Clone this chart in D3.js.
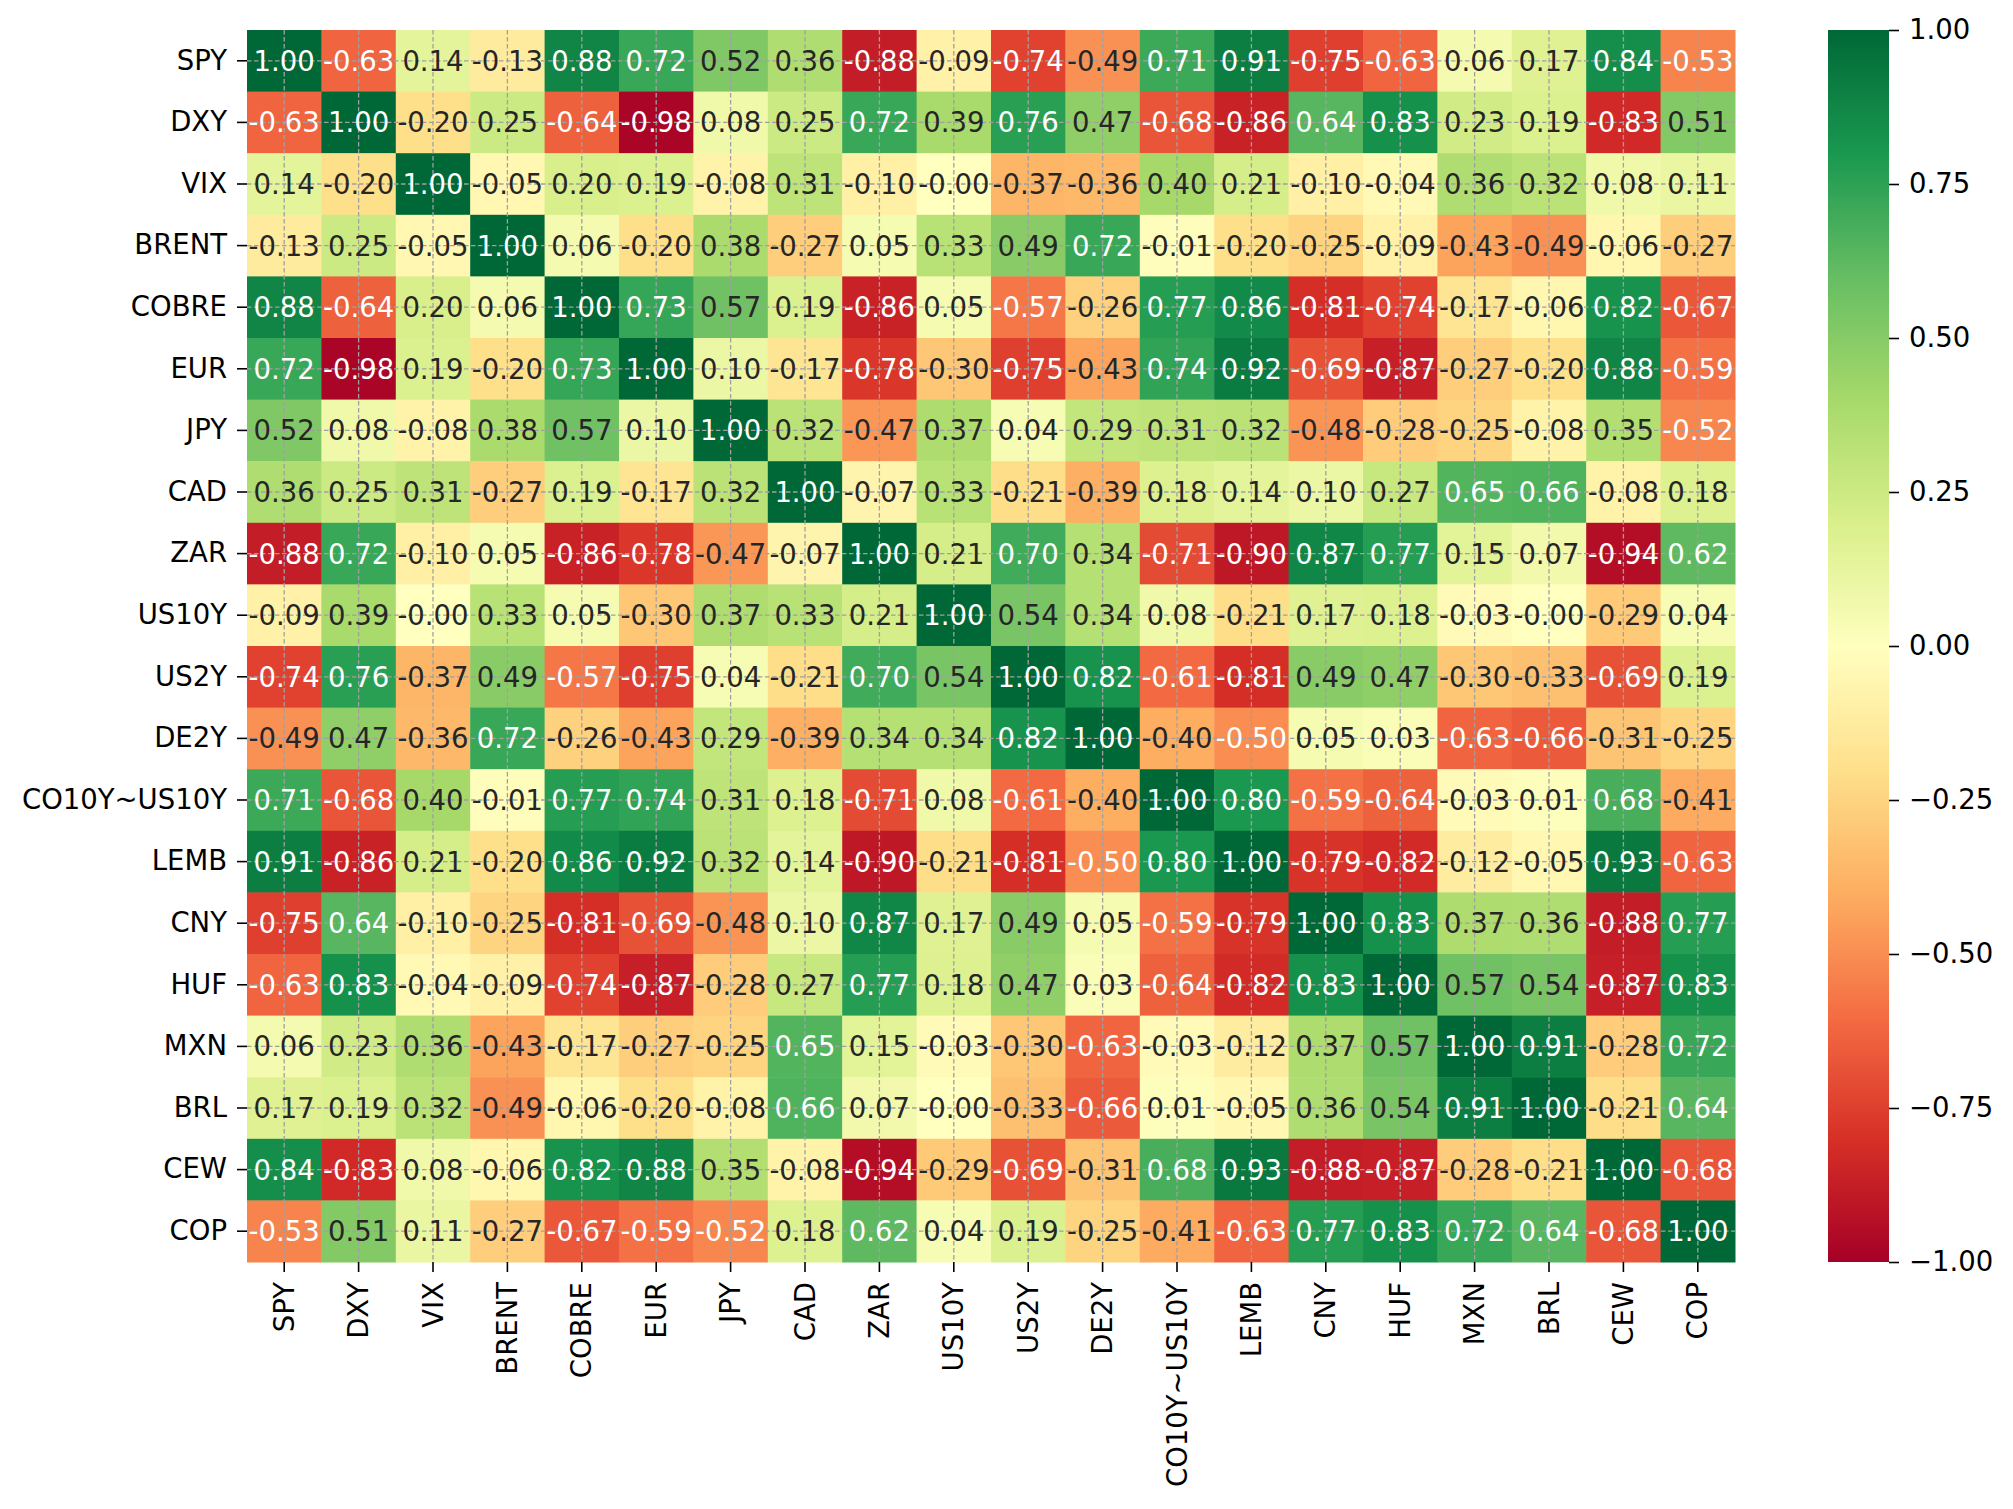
<!DOCTYPE html>
<html>
<head>
<meta charset="utf-8">
<script src="https://cdn.jsdelivr.net/npm/d3@7"></script>
<style>
  body { margin: 0; background: #fff; }
  text { font-family: "DejaVu Sans", sans-serif; }
</style>
</head>
<body>
<svg id="drawing_region"></svg>
<script>
const labels = ["SPY", "DXY", "VIX", "BRENT", "COBRE", "EUR", "JPY", "CAD", "ZAR", "US10Y",
    "US2Y", "DE2Y", "CO10Y~US10Y", "LEMB", "CNY", "HUF", "MXN", "BRL", "CEW", "COP"];

// correlation rows, same order as labels
const corr = [
    [1.00, -0.63, 0.14, -0.13, 0.88, 0.72, 0.52, 0.36, -0.88, -0.09, -0.74, -0.49, 0.71, 0.91, -0.75, -0.63, 0.06, 0.17, 0.84, -0.53],
    [-0.63, 1.00, -0.20, 0.25, -0.64, -0.98, 0.08, 0.25, 0.72, 0.39, 0.76, 0.47, -0.68, -0.86, 0.64, 0.83, 0.23, 0.19, -0.83, 0.51],
    [0.14, -0.20, 1.00, -0.05, 0.20, 0.19, -0.08, 0.31, -0.10, -0.001, -0.37, -0.36, 0.40, 0.21, -0.10, -0.04, 0.36, 0.32, 0.08, 0.11],
    [-0.13, 0.25, -0.05, 1.00, 0.06, -0.20, 0.38, -0.27, 0.05, 0.33, 0.49, 0.72, -0.01, -0.20, -0.25, -0.09, -0.43, -0.49, -0.06, -0.27],
    [0.88, -0.64, 0.20, 0.06, 1.00, 0.73, 0.57, 0.19, -0.86, 0.05, -0.57, -0.26, 0.77, 0.86, -0.81, -0.74, -0.17, -0.06, 0.82, -0.67],
    [0.72, -0.98, 0.19, -0.20, 0.73, 1.00, 0.10, -0.17, -0.78, -0.30, -0.75, -0.43, 0.74, 0.92, -0.69, -0.87, -0.27, -0.20, 0.88, -0.59],
    [0.52, 0.08, -0.08, 0.38, 0.57, 0.10, 1.00, 0.32, -0.47, 0.37, 0.04, 0.29, 0.31, 0.32, -0.48, -0.28, -0.25, -0.08, 0.35, -0.52],
    [0.36, 0.25, 0.31, -0.27, 0.19, -0.17, 0.32, 1.00, -0.07, 0.33, -0.21, -0.39, 0.18, 0.14, 0.10, 0.27, 0.65, 0.66, -0.08, 0.18],
    [-0.88, 0.72, -0.10, 0.05, -0.86, -0.78, -0.47, -0.07, 1.00, 0.21, 0.70, 0.34, -0.71, -0.90, 0.87, 0.77, 0.15, 0.07, -0.94, 0.62],
    [-0.09, 0.39, -0.001, 0.33, 0.05, -0.30, 0.37, 0.33, 0.21, 1.00, 0.54, 0.34, 0.08, -0.21, 0.17, 0.18, -0.03, -0.001, -0.29, 0.04],
    [-0.74, 0.76, -0.37, 0.49, -0.57, -0.75, 0.04, -0.21, 0.70, 0.54, 1.00, 0.82, -0.61, -0.81, 0.49, 0.47, -0.30, -0.33, -0.69, 0.19],
    [-0.49, 0.47, -0.36, 0.72, -0.26, -0.43, 0.29, -0.39, 0.34, 0.34, 0.82, 1.00, -0.40, -0.50, 0.05, 0.03, -0.63, -0.66, -0.31, -0.25],
    [0.71, -0.68, 0.40, -0.01, 0.77, 0.74, 0.31, 0.18, -0.71, 0.08, -0.61, -0.40, 1.00, 0.80, -0.59, -0.64, -0.03, 0.01, 0.68, -0.41],
    [0.91, -0.86, 0.21, -0.20, 0.86, 0.92, 0.32, 0.14, -0.90, -0.21, -0.81, -0.50, 0.80, 1.00, -0.79, -0.82, -0.12, -0.05, 0.93, -0.63],
    [-0.75, 0.64, -0.10, -0.25, -0.81, -0.69, -0.48, 0.10, 0.87, 0.17, 0.49, 0.05, -0.59, -0.79, 1.00, 0.83, 0.37, 0.36, -0.88, 0.77],
    [-0.63, 0.83, -0.04, -0.09, -0.74, -0.87, -0.28, 0.27, 0.77, 0.18, 0.47, 0.03, -0.64, -0.82, 0.83, 1.00, 0.57, 0.54, -0.87, 0.83],
    [0.06, 0.23, 0.36, -0.43, -0.17, -0.27, -0.25, 0.65, 0.15, -0.03, -0.30, -0.63, -0.03, -0.12, 0.37, 0.57, 1.00, 0.91, -0.28, 0.72],
    [0.17, 0.19, 0.32, -0.49, -0.06, -0.20, -0.08, 0.66, 0.07, -0.001, -0.33, -0.66, 0.01, -0.05, 0.36, 0.54, 0.91, 1.00, -0.21, 0.64],
    [0.84, -0.83, 0.08, -0.06, 0.82, 0.88, 0.35, -0.08, -0.94, -0.29, -0.69, -0.31, 0.68, 0.93, -0.88, -0.87, -0.28, -0.21, 1.00, -0.68],
    [-0.53, 0.51, 0.11, -0.27, -0.67, -0.59, -0.52, 0.18, 0.62, 0.04, 0.19, -0.25, -0.41, -0.63, 0.77, 0.83, 0.72, 0.64, -0.68, 1.00]
];

const cbarTicks = [-1, -0.75, -0.5, -0.25, 0, 0.25, 0.5, 0.75, 1];

// RdYlGn (colorbrewer 11, linear like matplotlib)
const rdylgn = ["#a50026", "#d73027", "#f46d43", "#fdae61", "#fee08b", "#ffffbf",
    "#d9ef8b", "#a6d96a", "#66bd63", "#1a9850", "#006837"];

const W = 2013, H = 1509;
const area = {left: 247, right: 1735, top: 30, bottom: 1262};
const cbar = {x0: 1828, x1: 1889};
const fontSize = 27.5;

const svg = d3.select("#drawing_region").attr("width", W).attr("height", H);

const xscale = d3.scaleBand().domain(labels).range([area.left, area.right]);
const yscale = d3.scaleBand().domain(labels).range([area.top, area.bottom]);
const color = d3.scaleLinear()
    .domain(d3.range(11).map(i => -1 + i * 0.2))
    .range(rdylgn)
    .interpolate(d3.interpolateRgb)
    .clamp(true);

function luminance(c) {
    const rgb = d3.rgb(c);
    const lin = [rgb.r, rgb.g, rgb.b].map(v => {
        v = v / 255;
        return v <= 0.03928 ? v / 12.92 : Math.pow((v + 0.055) / 1.055, 2.4);
    });
    return 0.2126 * lin[0] + 0.7152 * lin[1] + 0.0722 * lin[2];
}

const cells = [];
corr.forEach((row, i) => row.forEach((v, j) => cells.push({row: labels[i], col: labels[j], v: v})));

const chart = svg.append("g");

chart.selectAll("rect.cell")
    .data(cells)
    .enter()
    .append("rect")
    .attr("class", "cell")
    .attr("x", d => xscale(d.col))
    .attr("y", d => yscale(d.row))
    .attr("width", xscale.bandwidth() + 0.5)
    .attr("height", yscale.bandwidth() + 0.5)
    .attr("fill", d => color(d.v));

// dashed grid at tick positions
const grid = chart.append("g")
    .attr("stroke", "#a0a0a0")
    .attr("stroke-width", 1.3)
    .attr("stroke-dasharray", "4.5,2.5");
grid.selectAll("line.v")
    .data(labels)
    .enter()
    .append("line")
    .attr("class", "v")
    .attr("x1", d => xscale(d) + xscale.bandwidth() / 2)
    .attr("x2", d => xscale(d) + xscale.bandwidth() / 2)
    .attr("y1", area.top)
    .attr("y2", area.bottom);
grid.selectAll("line.h")
    .data(labels)
    .enter()
    .append("line")
    .attr("class", "h")
    .attr("y1", d => yscale(d) + yscale.bandwidth() / 2)
    .attr("y2", d => yscale(d) + yscale.bandwidth() / 2)
    .attr("x1", area.left)
    .attr("x2", area.right);

chart.selectAll("text.annot")
    .data(cells)
    .enter()
    .append("text")
    .attr("class", "annot")
    .attr("x", d => xscale(d.col) + xscale.bandwidth() / 2)
    .attr("y", d => yscale(d.row) + yscale.bandwidth() / 2)
    .attr("dy", "0.36em")
    .attr("text-anchor", "middle")
    .attr("font-size", fontSize)
    .attr("fill", d => luminance(color(d.v)) > 0.408 ? "#262626" : "#ffffff")
    .text(d => d.v.toFixed(2));

// axes
const yaxis = svg.append("g")
    .attr("transform", `translate(${area.left},0)`)
    .call(d3.axisLeft(yscale).tickSize(10).tickPadding(10));
const xaxis = svg.append("g")
    .attr("transform", `translate(0,${area.bottom})`)
    .call(d3.axisBottom(xscale).tickSize(10).tickPadding(10));

[xaxis, yaxis].forEach(g => {
    g.select(".domain").remove();
    g.selectAll(".tick line").attr("stroke", "#000").attr("stroke-width", 1.6);
    g.selectAll(".tick text")
        .attr("font-size", fontSize)
        .attr("font-family", "DejaVu Sans")
        .attr("fill", "#000");
});
xaxis.selectAll(".tick text")
    .attr("transform", "rotate(-90)")
    .attr("text-anchor", "end")
    .attr("x", -20)
    .attr("y", 0)
    .attr("dy", "0.35em");

// colorbar
const cscale = d3.scaleLinear().domain([-1, 1]).range([area.bottom, area.top]);
const defs = svg.append("defs");
const grad = defs.append("linearGradient")
    .attr("id", "cbar")
    .attr("x1", 0).attr("y1", 1).attr("x2", 0).attr("y2", 0);
grad.selectAll("stop")
    .data(rdylgn)
    .enter()
    .append("stop")
    .attr("offset", (d, i) => i / (rdylgn.length - 1))
    .attr("stop-color", d => d);

svg.append("rect")
    .attr("x", cbar.x0)
    .attr("y", area.top)
    .attr("width", cbar.x1 - cbar.x0)
    .attr("height", area.bottom - area.top)
    .attr("fill", "url(#cbar)");

const caxis = svg.append("g")
    .attr("transform", `translate(${cbar.x1},0)`)
    .call(d3.axisRight(cscale)
        .tickValues(cbarTicks)
        .tickSize(10)
        .tickPadding(10)
        .tickFormat(d => (d < 0 ? "\u2212" : "") + Math.abs(d).toFixed(2)));
caxis.select(".domain").remove();
caxis.selectAll(".tick line").attr("stroke", "#000").attr("stroke-width", 1.6);
caxis.selectAll(".tick text")
    .attr("font-size", fontSize)
    .attr("font-family", "DejaVu Sans")
    .attr("fill", "#000");
</script>
</body>
</html>
